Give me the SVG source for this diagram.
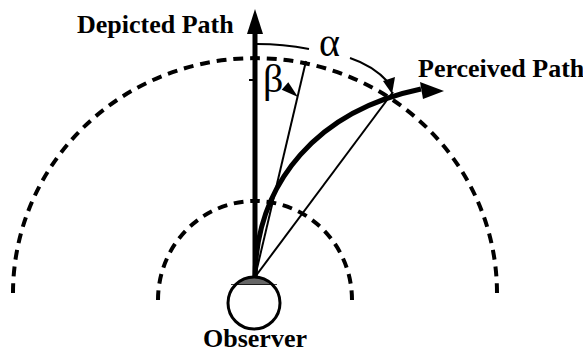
<svg xmlns="http://www.w3.org/2000/svg" width="583" height="353" viewBox="0 0 583 353">
<style>
.lbl{font-family:"Liberation Serif","Times New Roman",serif;font-weight:bold;font-size:26px;fill:#000}
.greek{font-family:"Liberation Serif","DejaVu Serif",serif;font-size:40px;fill:#000}
.dash{fill:none;stroke:#000;stroke-width:4;stroke-dasharray:10 7}
.thick{fill:none;stroke:#000;stroke-width:5}
.thin{fill:none;stroke:#000;stroke-width:2}
.head{fill:#000;stroke:none}
</style>
<defs>
<clipPath id="capClip"><rect x="220" y="270" width="70" height="15"/></clipPath>
</defs>
<rect width="583" height="353" fill="#fff"/>
<g id="arcs">
<path class="dash" pathLength="758" d="M13,293 A242,235 0 0 1 497,293"/>
<path class="dash" pathLength="316" d="M158,300 A97,99 0 0 1 352,300"/>
</g>
<g id="connectors">
<line class="thin" x1="255" y1="277" x2="306" y2="61"/>
<line class="thin" x1="255" y1="277" x2="393" y2="92"/>
<line class="thick" x1="255" y1="278" x2="255" y2="30"/>
<polygon class="head" points="255,9 247,34 263,34"/>
<path class="thick" d="M255,278 C256,180 320,110 421,89"/>
<polygon class="head" points="444,91 420,82 423,99"/>
<path class="thin" d="M257,44 Q283,44 309,49"/>
<path class="thin" d="M350,58 C365,63 378,71 388,82"/>
<polygon class="head" points="383,81 395,77 392,94"/>
<line class="thin" x1="249" y1="80" x2="253" y2="80"/>
<polygon class="head" points="298,97 281.7,89.8 288.3,82.2"/>
</g>
<g id="depicted">
<text class="lbl" x="77" y="33">Depicted Path</text>
</g>
<g id="perceived">
<text class="lbl" x="418" y="77" font-size="25.5">Perceived Path</text>
</g>
<g id="alpha"><text class="greek" x="319" y="56">α</text></g>
<g id="beta"><text class="greek" x="263" y="92" font-size="37">β</text></g>
<g id="observer">
<circle cx="254" cy="303" r="26" fill="#fff" stroke="none"/>
<circle cx="254" cy="303" r="26" fill="#666" clip-path="url(#capClip)"/>
<line x1="231" y1="285" x2="277" y2="285" stroke="#000" stroke-width="1.5" clip-path="url(#capClip)"/>
<circle cx="254" cy="303" r="26" fill="none" stroke="#000" stroke-width="3"/>
<text class="lbl" x="255" y="347" text-anchor="middle">Observer</text>
</g>
</svg>
